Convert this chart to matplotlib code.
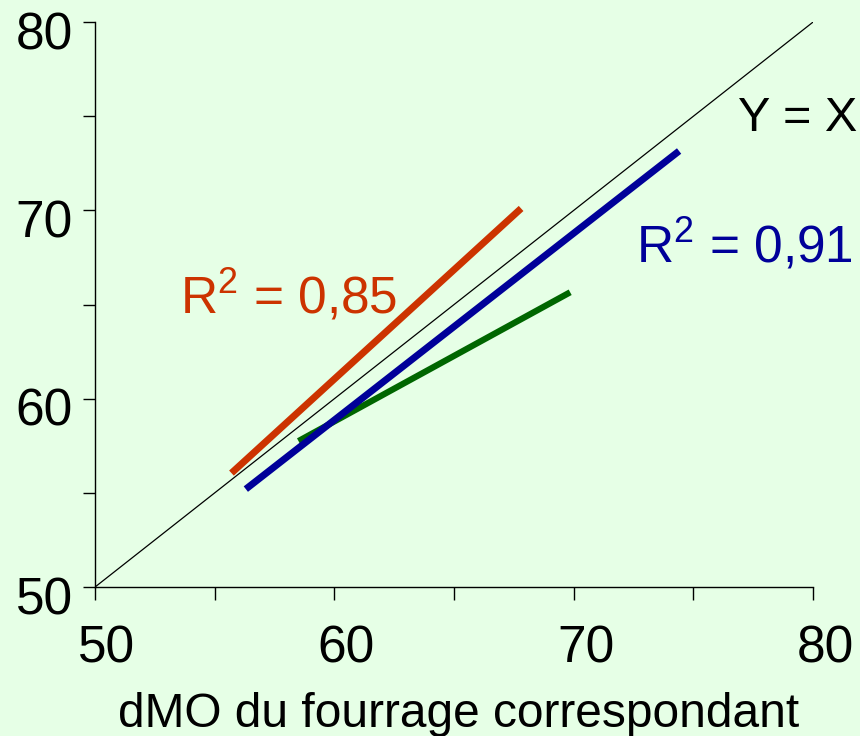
import matplotlib
matplotlib.use('Agg')
import matplotlib.pyplot as plt
from matplotlib.transforms import ScaledTranslation

plt.rcParams['font.family'] = ['Liberation Sans', 'DejaVu Sans']
plt.rcParams['mathtext.default'] = 'regular'

# regression lines (x start, x end), (y start, y end)
orange_x = [55.7, 67.8]
orange_y = [56.05, 70.1]
blue_x = [56.3, 74.4]
blue_y = [55.2, 73.15]
green_x = [58.5, 69.85]
green_y = [57.75, 65.65]
ident = [50, 80]

major = [50, 60, 70, 80]
minor = [55, 65, 75]

bg = '#e6ffe6'
fig = plt.figure(figsize=(8.6, 7.36), dpi=100, facecolor=bg)
ax = fig.add_axes([0.1105, 0.2024, 0.835, 0.7677])
ax.set_facecolor(bg)

ax.plot(ident, ident, color='black', lw=0.9)
ax.plot(orange_x, orange_y, color='#cc3300', lw=5, solid_capstyle='butt')
ax.plot(green_x, green_y, color='#006600', lw=4.5, solid_capstyle='butt')
ax.plot(blue_x, blue_y, color='#000099', lw=5, solid_capstyle='butt')

ax.text(76.85, 74.2, 'Y = X', fontsize=35, color='black')
ax.text(72.6, 67.26, r'R$^2$ = 0,91', fontsize=37, color='#000099')
ax.text(53.55, 64.55, r'R$^2$ = 0,85', fontsize=37, color='#cc3300')

ax.set_xlim(50, 80)
ax.set_ylim(50, 80)
ax.set_xticks(major)
ax.set_yticks(major)
ax.set_xticks(minor, minor=True)
ax.set_yticks(minor, minor=True)
ax.tick_params(which='both', direction='out', length=9, width=1, labelsize=37, colors='black')
ax.tick_params(axis='x', pad=18)
ax.tick_params(axis='y', pad=7)
for s in ['top', 'right']:
    ax.spines[s].set_visible(False)
for s in ['left', 'bottom']:
    ax.spines[s].set_linewidth(1)

# labels sit a bit off their ticks in the original
dx = ScaledTranslation(12 / 100, 0, fig.dpi_scale_trans)
dy = ScaledTranslation(0, -8 / 100, fig.dpi_scale_trans)
for lab in ax.get_xticklabels():
    lab.set_transform(lab.get_transform() + dx)
for lab in ax.get_yticklabels():
    lab.set_transform(lab.get_transform() + dy)

ax.set_xlabel('dMO du fourrage correspondant', fontsize=34.5, labelpad=13)
ax.xaxis.label.set_transform(ax.xaxis.label.get_transform() + ScaledTranslation(5 / 100, 0, fig.dpi_scale_trans))

fig.savefig('out.png', dpi=100, facecolor=bg)
